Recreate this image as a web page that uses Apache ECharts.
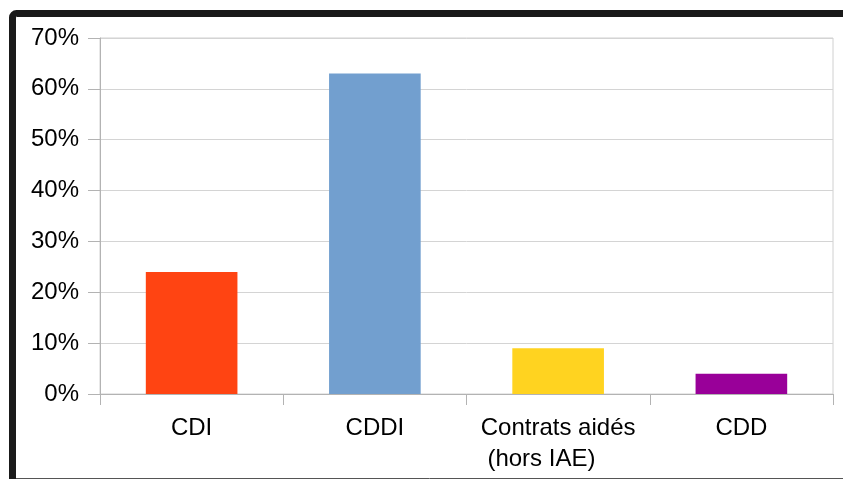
<!DOCTYPE html>
<html>
<head>
<meta charset="utf-8">
<script src="https://cdn.jsdelivr.net/npm/echarts@6/dist/echarts.min.js"></script>
<style>
  html, body { margin: 0; padding: 0; background: #ffffff; }
  #chart { width: 843px; height: 479px; }
</style>
</head>
<body>
<div id="chart"></div>
<script>
// Répartition par type de contrat (en %)
const categories = ['CDI', 'CDDI', 'Contrats aidés (hors IAE)', 'CDD'];
const shares = [24, 63, 9, 4];
const barColors = ['#ff4412', '#729fcf', '#ffd320', '#990099'];
const yTicks = [0, 10, 20, 30, 40, 50, 60, 70];

const FONT = '"Liberation Sans", Arial, sans-serif';

const chart = echarts.init(document.getElementById('chart'), null, { renderer: 'canvas' });

chart.setOption({
  animation: false,
  backgroundColor: '#ffffff',
  grid: {
    left: 100, right: 10, top: 38, bottom: 85,
    show: true, borderColor: '#d0d0d0', borderWidth: 1
  },
  xAxis: {
    type: 'category',
    data: categories,
    boundaryGap: true,
    axisLine: { lineStyle: { color: '#b3b3b3', width: 1 } },
    axisTick: { show: true, length: 11, alignWithLabel: false, interval: 0, lineStyle: { color: '#b3b3b3' } },
    axisLabel: {
      interval: 0,
      margin: 19,
      color: '#000000',
      fontFamily: FONT,
      fontSize: 24,
      lineHeight: 31,
      formatter: function (v) {
        if (v === 'Contrats aidés (hors IAE)') {
          return '{a|Contrats aidés}\n{b| (hors IAE)}';
        }
        return v;
      },
      rich: {
        a: { fontFamily: FONT, fontSize: 24, lineHeight: 31, color: '#000000' },
        b: { fontFamily: FONT, fontSize: 24, lineHeight: 31, color: '#000000', align: 'left' }
      }
    },
    splitLine: { show: false }
  },
  yAxis: {
    type: 'value',
    min: yTicks[0],
    max: yTicks[yTicks.length - 1],
    interval: 10,
    axisLine: { show: true, lineStyle: { color: '#b3b3b3', width: 1 } },
    axisTick: { show: true, length: 12, lineStyle: { color: '#b3b3b3' } },
    axisLabel: {
      margin: 21,
      color: '#000000',
      fontFamily: FONT,
      fontSize: 24,
      formatter: '{value}%'
    },
    splitLine: { show: true, lineStyle: { color: '#d4d4d4', width: 1 } }
  },
  series: [{
    type: 'bar',
    barWidth: '50%',
    data: shares.map(function (v, i) {
      return { value: v, itemStyle: { color: barColors[i] } };
    })
  }],
  graphic: [
    {
      type: 'rect',
      silent: true,
      shape: { x: 12.5, y: 13.5, width: 900, height: 900, r: 4 },
      style: { fill: null, stroke: '#1a1a1a', lineWidth: 7 }
    },
    {
      type: 'line',
      silent: true,
      shape: { x1: 16, y1: 478.5, x2: 843, y2: 478.5 },
      style: { stroke: '#555555', lineWidth: 1 }
    }
  ]
});
</script>
</body>
</html>
